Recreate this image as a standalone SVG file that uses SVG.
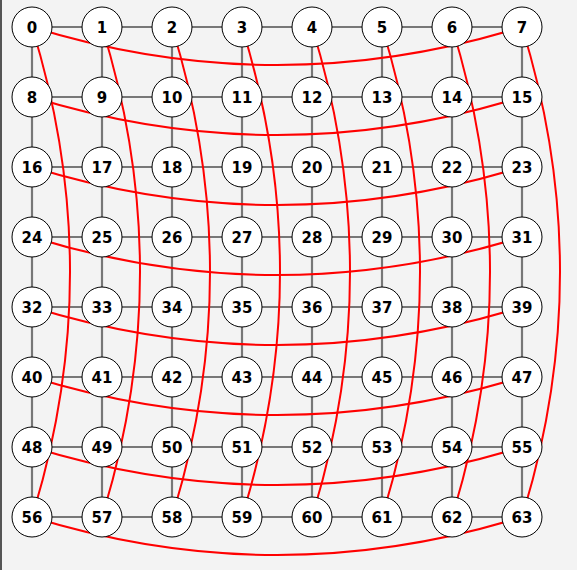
<svg xmlns="http://www.w3.org/2000/svg" width="577" height="570" viewBox="0 0 577 570">
<style>
.e{stroke:#777;stroke-width:2.2;fill:none}
.r{stroke:#f00;stroke-width:2;fill:none}
circle{fill:#fff;stroke:#000;stroke-width:1}
text{font-family:"DejaVu Sans",Verdana,sans-serif;font-weight:bold;font-size:15px;text-anchor:middle;fill:#000}
</style>
<rect width="577" height="570" fill="#f3f3f3"/>
<rect x="0" y="0" width="2" height="570" fill="#555"/>
<g id="connectors">
<g id="grid-edges">
<path class="e" d="M32 27H102"/><path class="e" d="M102 27H172"/><path class="e" d="M172 27H242"/><path class="e" d="M242 27H312"/><path class="e" d="M312 27H382"/><path class="e" d="M382 27H452"/><path class="e" d="M452 27H522"/>
<path class="e" d="M32 97H102"/><path class="e" d="M102 97H172"/><path class="e" d="M172 97H242"/><path class="e" d="M242 97H312"/><path class="e" d="M312 97H382"/><path class="e" d="M382 97H452"/><path class="e" d="M452 97H522"/>
<path class="e" d="M32 167H102"/><path class="e" d="M102 167H172"/><path class="e" d="M172 167H242"/><path class="e" d="M242 167H312"/><path class="e" d="M312 167H382"/><path class="e" d="M382 167H452"/><path class="e" d="M452 167H522"/>
<path class="e" d="M32 237H102"/><path class="e" d="M102 237H172"/><path class="e" d="M172 237H242"/><path class="e" d="M242 237H312"/><path class="e" d="M312 237H382"/><path class="e" d="M382 237H452"/><path class="e" d="M452 237H522"/>
<path class="e" d="M32 307H102"/><path class="e" d="M102 307H172"/><path class="e" d="M172 307H242"/><path class="e" d="M242 307H312"/><path class="e" d="M312 307H382"/><path class="e" d="M382 307H452"/><path class="e" d="M452 307H522"/>
<path class="e" d="M32 377H102"/><path class="e" d="M102 377H172"/><path class="e" d="M172 377H242"/><path class="e" d="M242 377H312"/><path class="e" d="M312 377H382"/><path class="e" d="M382 377H452"/><path class="e" d="M452 377H522"/>
<path class="e" d="M32 447H102"/><path class="e" d="M102 447H172"/><path class="e" d="M172 447H242"/><path class="e" d="M242 447H312"/><path class="e" d="M312 447H382"/><path class="e" d="M382 447H452"/><path class="e" d="M452 447H522"/>
<path class="e" d="M32 517H102"/><path class="e" d="M102 517H172"/><path class="e" d="M172 517H242"/><path class="e" d="M242 517H312"/><path class="e" d="M312 517H382"/><path class="e" d="M382 517H452"/><path class="e" d="M452 517H522"/>
<path class="e" d="M32 27V97"/><path class="e" d="M32 97V167"/><path class="e" d="M32 167V237"/><path class="e" d="M32 237V307"/><path class="e" d="M32 307V377"/><path class="e" d="M32 377V447"/><path class="e" d="M32 447V517"/>
<path class="e" d="M102 27V97"/><path class="e" d="M102 97V167"/><path class="e" d="M102 167V237"/><path class="e" d="M102 237V307"/><path class="e" d="M102 307V377"/><path class="e" d="M102 377V447"/><path class="e" d="M102 447V517"/>
<path class="e" d="M172 27V97"/><path class="e" d="M172 97V167"/><path class="e" d="M172 167V237"/><path class="e" d="M172 237V307"/><path class="e" d="M172 307V377"/><path class="e" d="M172 377V447"/><path class="e" d="M172 447V517"/>
<path class="e" d="M242 27V97"/><path class="e" d="M242 97V167"/><path class="e" d="M242 167V237"/><path class="e" d="M242 237V307"/><path class="e" d="M242 307V377"/><path class="e" d="M242 377V447"/><path class="e" d="M242 447V517"/>
<path class="e" d="M312 27V97"/><path class="e" d="M312 97V167"/><path class="e" d="M312 167V237"/><path class="e" d="M312 237V307"/><path class="e" d="M312 307V377"/><path class="e" d="M312 377V447"/><path class="e" d="M312 447V517"/>
<path class="e" d="M382 27V97"/><path class="e" d="M382 97V167"/><path class="e" d="M382 167V237"/><path class="e" d="M382 237V307"/><path class="e" d="M382 307V377"/><path class="e" d="M382 377V447"/><path class="e" d="M382 447V517"/>
<path class="e" d="M452 27V97"/><path class="e" d="M452 97V167"/><path class="e" d="M452 167V237"/><path class="e" d="M452 237V307"/><path class="e" d="M452 307V377"/><path class="e" d="M452 377V447"/><path class="e" d="M452 447V517"/>
<path class="e" d="M522 27V97"/><path class="e" d="M522 97V167"/><path class="e" d="M522 167V237"/><path class="e" d="M522 237V307"/><path class="e" d="M522 307V377"/><path class="e" d="M522 377V447"/><path class="e" d="M522 447V517"/>
</g>
<g id="wrap-edges">
<path class="r" d="M32 27Q277 103 522 27"/>
<path class="r" d="M32 97Q277 173 522 97"/>
<path class="r" d="M32 167Q277 243 522 167"/>
<path class="r" d="M32 237Q277 313 522 237"/>
<path class="r" d="M32 307Q277 383 522 307"/>
<path class="r" d="M32 377Q277 453 522 377"/>
<path class="r" d="M32 447Q277 523 522 447"/>
<path class="r" d="M32 517Q277 593 522 517"/>
<path class="r" d="M32 27Q108 272 32 517"/>
<path class="r" d="M102 27Q178 272 102 517"/>
<path class="r" d="M172 27Q248 272 172 517"/>
<path class="r" d="M242 27Q318 272 242 517"/>
<path class="r" d="M312 27Q388 272 312 517"/>
<path class="r" d="M382 27Q458 272 382 517"/>
<path class="r" d="M452 27Q528 272 452 517"/>
<path class="r" d="M522 27Q598 272 522 517"/>
</g>
</g>
<g id="nodes">
<g id="n0"><circle cx="32" cy="27" r="20"/><text x="32" y="32.5">0</text></g>
<g id="n1"><circle cx="102" cy="27" r="20"/><text x="102" y="32.5">1</text></g>
<g id="n2"><circle cx="172" cy="27" r="20"/><text x="172" y="32.5">2</text></g>
<g id="n3"><circle cx="242" cy="27" r="20"/><text x="242" y="32.5">3</text></g>
<g id="n4"><circle cx="312" cy="27" r="20"/><text x="312" y="32.5">4</text></g>
<g id="n5"><circle cx="382" cy="27" r="20"/><text x="382" y="32.5">5</text></g>
<g id="n6"><circle cx="452" cy="27" r="20"/><text x="452" y="32.5">6</text></g>
<g id="n7"><circle cx="522" cy="27" r="20"/><text x="522" y="32.5">7</text></g>
<g id="n8"><circle cx="32" cy="97" r="20"/><text x="32" y="102.5">8</text></g>
<g id="n9"><circle cx="102" cy="97" r="20"/><text x="102" y="102.5">9</text></g>
<g id="n10"><circle cx="172" cy="97" r="20"/><text x="172" y="102.5">10</text></g>
<g id="n11"><circle cx="242" cy="97" r="20"/><text x="242" y="102.5">11</text></g>
<g id="n12"><circle cx="312" cy="97" r="20"/><text x="312" y="102.5">12</text></g>
<g id="n13"><circle cx="382" cy="97" r="20"/><text x="382" y="102.5">13</text></g>
<g id="n14"><circle cx="452" cy="97" r="20"/><text x="452" y="102.5">14</text></g>
<g id="n15"><circle cx="522" cy="97" r="20"/><text x="522" y="102.5">15</text></g>
<g id="n16"><circle cx="32" cy="167" r="20"/><text x="32" y="172.5">16</text></g>
<g id="n17"><circle cx="102" cy="167" r="20"/><text x="102" y="172.5">17</text></g>
<g id="n18"><circle cx="172" cy="167" r="20"/><text x="172" y="172.5">18</text></g>
<g id="n19"><circle cx="242" cy="167" r="20"/><text x="242" y="172.5">19</text></g>
<g id="n20"><circle cx="312" cy="167" r="20"/><text x="312" y="172.5">20</text></g>
<g id="n21"><circle cx="382" cy="167" r="20"/><text x="382" y="172.5">21</text></g>
<g id="n22"><circle cx="452" cy="167" r="20"/><text x="452" y="172.5">22</text></g>
<g id="n23"><circle cx="522" cy="167" r="20"/><text x="522" y="172.5">23</text></g>
<g id="n24"><circle cx="32" cy="237" r="20"/><text x="32" y="242.5">24</text></g>
<g id="n25"><circle cx="102" cy="237" r="20"/><text x="102" y="242.5">25</text></g>
<g id="n26"><circle cx="172" cy="237" r="20"/><text x="172" y="242.5">26</text></g>
<g id="n27"><circle cx="242" cy="237" r="20"/><text x="242" y="242.5">27</text></g>
<g id="n28"><circle cx="312" cy="237" r="20"/><text x="312" y="242.5">28</text></g>
<g id="n29"><circle cx="382" cy="237" r="20"/><text x="382" y="242.5">29</text></g>
<g id="n30"><circle cx="452" cy="237" r="20"/><text x="452" y="242.5">30</text></g>
<g id="n31"><circle cx="522" cy="237" r="20"/><text x="522" y="242.5">31</text></g>
<g id="n32"><circle cx="32" cy="307" r="20"/><text x="32" y="312.5">32</text></g>
<g id="n33"><circle cx="102" cy="307" r="20"/><text x="102" y="312.5">33</text></g>
<g id="n34"><circle cx="172" cy="307" r="20"/><text x="172" y="312.5">34</text></g>
<g id="n35"><circle cx="242" cy="307" r="20"/><text x="242" y="312.5">35</text></g>
<g id="n36"><circle cx="312" cy="307" r="20"/><text x="312" y="312.5">36</text></g>
<g id="n37"><circle cx="382" cy="307" r="20"/><text x="382" y="312.5">37</text></g>
<g id="n38"><circle cx="452" cy="307" r="20"/><text x="452" y="312.5">38</text></g>
<g id="n39"><circle cx="522" cy="307" r="20"/><text x="522" y="312.5">39</text></g>
<g id="n40"><circle cx="32" cy="377" r="20"/><text x="32" y="382.5">40</text></g>
<g id="n41"><circle cx="102" cy="377" r="20"/><text x="102" y="382.5">41</text></g>
<g id="n42"><circle cx="172" cy="377" r="20"/><text x="172" y="382.5">42</text></g>
<g id="n43"><circle cx="242" cy="377" r="20"/><text x="242" y="382.5">43</text></g>
<g id="n44"><circle cx="312" cy="377" r="20"/><text x="312" y="382.5">44</text></g>
<g id="n45"><circle cx="382" cy="377" r="20"/><text x="382" y="382.5">45</text></g>
<g id="n46"><circle cx="452" cy="377" r="20"/><text x="452" y="382.5">46</text></g>
<g id="n47"><circle cx="522" cy="377" r="20"/><text x="522" y="382.5">47</text></g>
<g id="n48"><circle cx="32" cy="447" r="20"/><text x="32" y="452.5">48</text></g>
<g id="n49"><circle cx="102" cy="447" r="20"/><text x="102" y="452.5">49</text></g>
<g id="n50"><circle cx="172" cy="447" r="20"/><text x="172" y="452.5">50</text></g>
<g id="n51"><circle cx="242" cy="447" r="20"/><text x="242" y="452.5">51</text></g>
<g id="n52"><circle cx="312" cy="447" r="20"/><text x="312" y="452.5">52</text></g>
<g id="n53"><circle cx="382" cy="447" r="20"/><text x="382" y="452.5">53</text></g>
<g id="n54"><circle cx="452" cy="447" r="20"/><text x="452" y="452.5">54</text></g>
<g id="n55"><circle cx="522" cy="447" r="20"/><text x="522" y="452.5">55</text></g>
<g id="n56"><circle cx="32" cy="517" r="20"/><text x="32" y="522.5">56</text></g>
<g id="n57"><circle cx="102" cy="517" r="20"/><text x="102" y="522.5">57</text></g>
<g id="n58"><circle cx="172" cy="517" r="20"/><text x="172" y="522.5">58</text></g>
<g id="n59"><circle cx="242" cy="517" r="20"/><text x="242" y="522.5">59</text></g>
<g id="n60"><circle cx="312" cy="517" r="20"/><text x="312" y="522.5">60</text></g>
<g id="n61"><circle cx="382" cy="517" r="20"/><text x="382" y="522.5">61</text></g>
<g id="n62"><circle cx="452" cy="517" r="20"/><text x="452" y="522.5">62</text></g>
<g id="n63"><circle cx="522" cy="517" r="20"/><text x="522" y="522.5">63</text></g>
</g>
</svg>
